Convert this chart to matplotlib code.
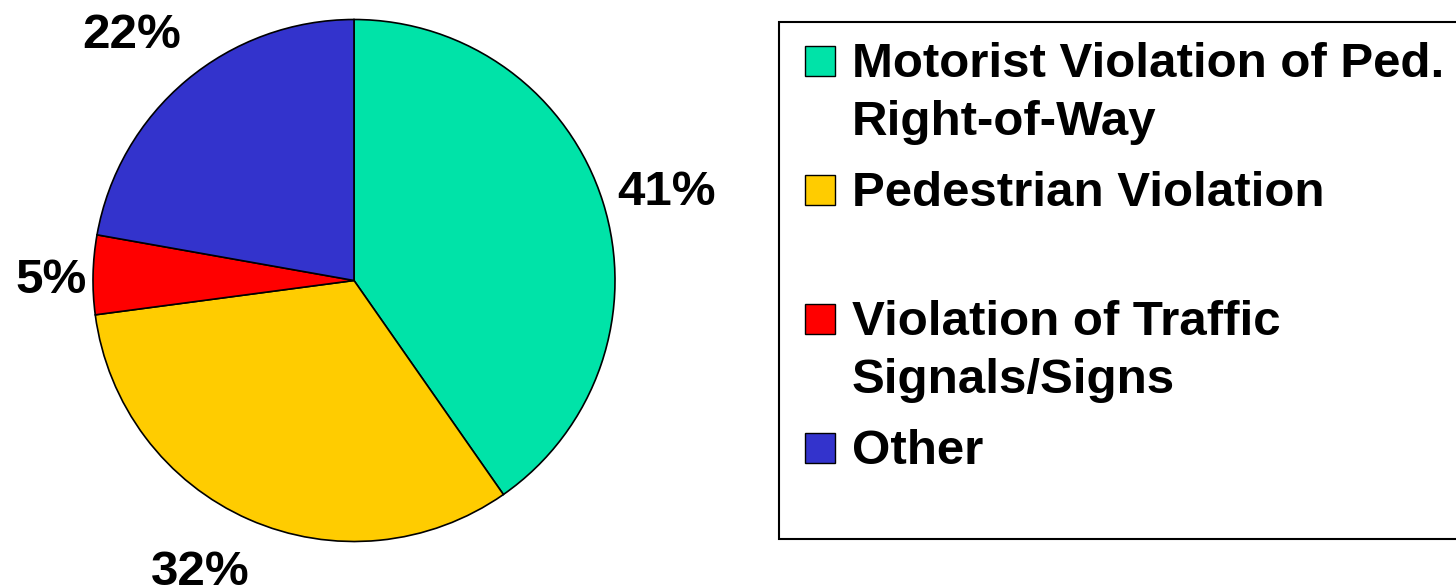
import matplotlib
matplotlib.use("Agg")
import matplotlib.pyplot as plt
from matplotlib.patches import Rectangle
import numpy as np

# ---- data ----
categories = ["Motorist Violation of Ped.\nRight-of-Way",
              "Pedestrian Violation",
              "Violation of Traffic\nSignals/Signs",
              "Other"]
shares = [40.3, 32.6, 4.9, 22.2]          # slice sizes as drawn
pct_labels = ["41%", "32%", "5%", "22%"]  # labels as printed
colors = ["#00E3A8", "#FFCC00", "#FF0000", "#3333CC"]

# ---- style / layout (pixel units) ----
W, H = 1456, 588
center = (354, H - 280.5)
radius = 261
label_dist = [1.248, 1.246, 1.159, 1.284]
label_dang = [-0.8, -4.4, 0.2, 1.7]
fs = 35.5
cap = 0.716 * fs * 100 / 72.0
font = "Liberation Sans"

fig = plt.figure(figsize=(W / 100, H / 100), dpi=100)
ax = fig.add_axes([0, 0, 1, 1])

wedges, _ = ax.pie(shares, colors=colors, startangle=90, counterclock=False,
                   center=center, radius=radius,
                   wedgeprops=dict(edgecolor="black", linewidth=1.2))

for w, lab, d, da in zip(wedges, pct_labels, label_dist, label_dang):
    mid = np.deg2rad((w.theta1 + w.theta2) / 2 + da)
    x = center[0] + radius * d * np.cos(mid)
    y = center[1] + radius * d * np.sin(mid)
    ax.text(x, y - cap / 2, lab, ha="center", va="baseline",
            fontsize=fs, fontweight="bold", family=font, color="black")

# ---- legend box ----
box_left, box_top, box_bottom = 779, 22, 539
ax.add_patch(Rectangle((box_left, H - box_bottom), 800, box_bottom - box_top,
                       facecolor="white", edgecolor="black", linewidth=1.5,
                       zorder=0.5, clip_on=True))

first_baseline = 77
entry_step = 129
line_step = 58
sq_x0, sq_size = 805, 30
text_x = 852
for i, (lab, c) in enumerate(zip(categories, colors)):
    b = first_baseline + i * entry_step
    ax.add_patch(Rectangle((sq_x0, H - b + 1), sq_size, sq_size,
                           facecolor=c, edgecolor="black", linewidth=1.0))
    for j, line in enumerate(lab.split("\n")):
        ax.text(text_x, H - (b + j * line_step), line, ha="left", va="baseline",
                fontsize=fs, fontweight="bold", family=font, color="black")

ax.set_xlim(0, W)
ax.set_ylim(0, H)
ax.set_aspect("equal")
ax.axis("off")

fig.savefig("out.png", dpi=100)
